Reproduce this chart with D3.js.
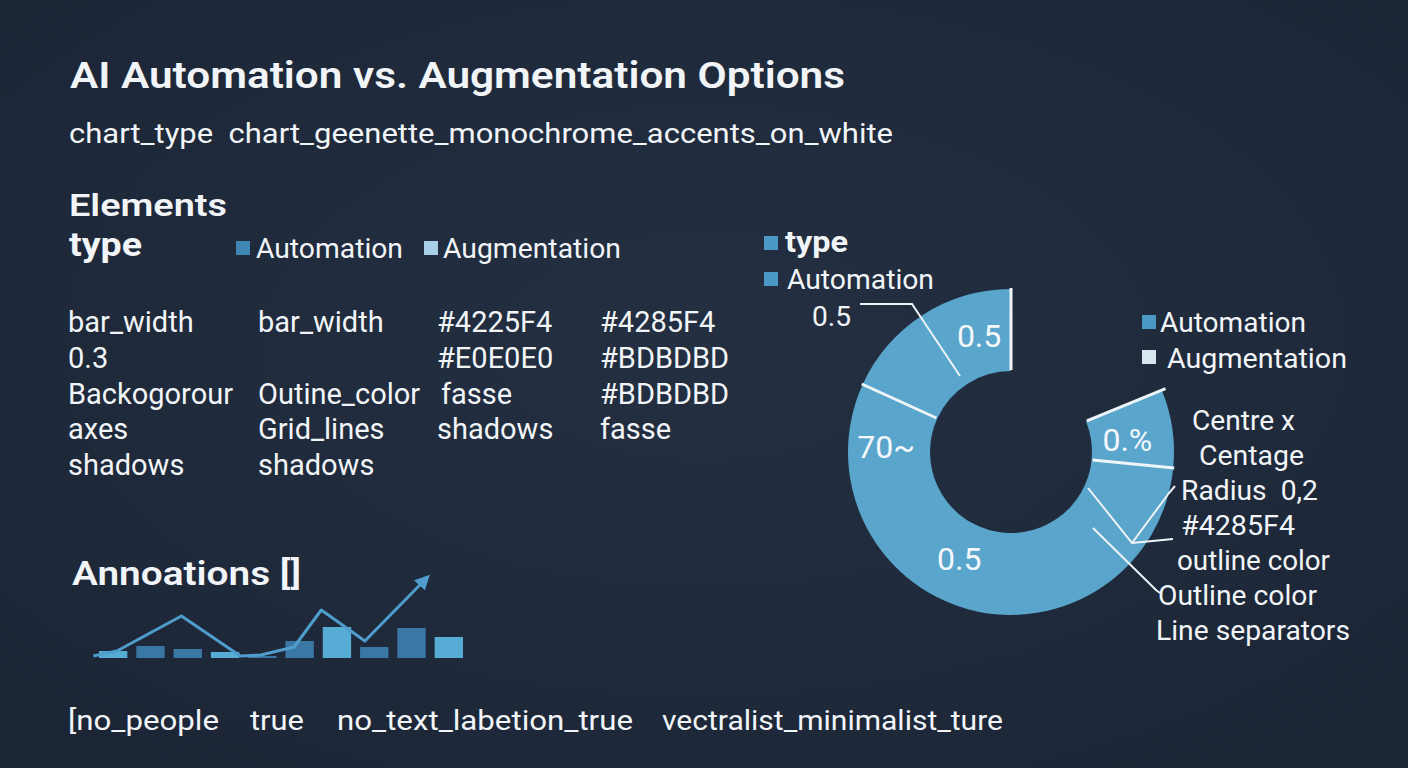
<!DOCTYPE html>
<html><head><meta charset="utf-8">
<script src="https://cdn.jsdelivr.net/npm/d3@7"></script>
<style>html,body{margin:0;padding:0;background:#1d2737;}svg{display:block;font-family:Roboto,"Open Sans",sans-serif;}svg text{white-space:pre;}</style>
</head><body>
<script>
// ---------- data ----------
const titleText = "AI Automation vs. Augmentation Options";
const subtitleText = "chart_type  chart_geenette_monochrome_accents_on_white";
const legendSeries = ["Automation", "Augmentation"];
const tableCol1 = ["bar_width", "0.3", "Backogorour", "axes", "shadows"];
const tableCol2 = ["bar_width", "", "Outine_color", "Grid_lines", "shadows"];
const tableCol3 = ["#4225F4", "#E0E0E0", "fasse", "shadows", ""];
const tableCol4 = ["#4285F4", "#BDBDBD", "#BDBDBD", "fasse", ""];
const footerItems = ["[no_people", "true", "no_text_labetion_true", "vectralist_minimalist_ture"];
// mini chart
const miniCats = ["a","b","c","d","e","f","g","h","i","j"];
const miniBars = [7, 12, 9, 6, 2, 17, 31, 11, 30, 21];
const miniTone = [1, 0, 0, 1, 0, 0, 1, 0, 0, 1];
const lineX = [-0.53, 0.1, 1.83, 3.41, 3.96, 4.85, 5.58, 6.75, 8.38];
const lineY = [2, 7, 42, 2, 3, 11, 48, 17, 79];
// donut (degrees of arc per segment, gap first is empty)
const donutGapDeg = 67.7;
const donutValues = [27.9, 198.9, 65.5];
const donutLabels = [
  {text:"0.%", ang:84, r:117},
  {text:"0.5", ang:206, r:118},
  {text:"70~", ang:272.7, r:125},
  {text:"0.5", ang:344.7, r:121}
];
const rightNotes = ["Centre x", "Centage", "Radius  0,2", "#4285F4", "outline color", "Outline color", "Line separators"];

// ---------- setup ----------
const W = 1408, H = 768;
const svg = d3.select("body").append("svg").attr("width", W).attr("height", H);
const defs = svg.append("defs");
const rg = defs.append("radialGradient").attr("id","bg").attr("cx","50%").attr("cy","45%").attr("r","70%");
rg.append("stop").attr("offset","0%").attr("stop-color","#243042");
rg.append("stop").attr("offset","100%").attr("stop-color","#1b2536");
svg.append("rect").attr("width",W).attr("height",H).attr("fill","url(#bg)");

function txt(x, y, s, size, weight, width, fill) {
  const t = svg.append("text").attr("x", x).attr("y", y).text(s)
    .attr("font-size", size).attr("font-weight", weight || 400)
    .attr("fill", fill || "#f2f5f8");
  if (width) t.attr("textLength", width).attr("lengthAdjust", "spacingAndGlyphs");
  return t;
}

// ---------- left text ----------
txt(70, 88, titleText, 37, 600, 775);
txt(69, 143, subtitleText, 28, 400, 824);
txt(69, 216, "Elements", 32, 600, 158);
txt(69, 256, "type", 33, 700, 73);

// legend
const legX = [236, 424], legTX = [256, 443], legTW = [147, 178];
const legColors = ["#3f86b4", "#a9cfe6"];
legendSeries.forEach((s, i) => {
  svg.append("rect").attr("x", legX[i]).attr("y", 241).attr("width", 14).attr("height", 14).attr("fill", legColors[i]);
  txt(legTX[i], 258, s, 27, 400, legTW[i]);
});

// table
const rowY = d3.scaleLinear().domain([0, 4]).range([332, 475]);
const cols = [
  {data: tableCol1, x: 68},
  {data: tableCol2, x: 258},
  {data: tableCol3, x: 437},
  {data: tableCol4, x: 600}
];
cols.forEach(c => c.data.forEach((s, i) => {
  if (!s) return;
  const xo = (s === "fasse" && c.x === 437) ? 4 : 0;
  txt(c.x + xo, rowY(i), s, 29, 400);
}));

txt(72, 585, "Annoations []", 33, 600, 229);

// ---------- mini chart ----------
const mx = d3.scaleBand().domain(miniCats).range([99, 463]).paddingInner(0.24).paddingOuter(0.0);
const mxl = d3.scaleLinear().domain([0, 9]).range([mx("a") + mx.bandwidth()/2, mx("j") + mx.bandwidth()/2]);
const my = d3.scaleLinear().domain([0, 80]).range([658, 578]);
svg.append("g").selectAll("rect").data(miniBars).join("rect")
  .attr("x", (d, i) => mx(miniCats[i]))
  .attr("y", d => my(d))
  .attr("width", mx.bandwidth())
  .attr("height", d => my(0) - my(d))
  .attr("fill", (d, i) => miniTone[i] ? "#57acd6" : "#3b77a5");
defs.append("marker").attr("id","arrow").attr("viewBox","0 0 10 10").attr("refX",6).attr("refY",5)
  .attr("markerWidth",5).attr("markerHeight",5).attr("orient","auto")
  .append("path").attr("d","M0,0 L10,5 L0,10 z").attr("fill","#4f9dcc");
const pts = lineX.map((x, i) => [mxl(x), my(lineY[i])]);
svg.append("path").attr("d", d3.line()(pts)).attr("fill","none")
  .attr("stroke","#4f9dcc").attr("stroke-width",3).attr("stroke-linejoin","round")
  .attr("marker-end","url(#arrow)");

// footer
const footX = [68, 250, 337, 662], footW = [151, 54, 296, 341];
footerItems.forEach((s, i) => txt(footX[i], 730, s, 28, 400, footW[i]));

// ---------- donut ----------
const cx = 1011, cy = 452, rIn = 81, rOut = 163;
const g = svg.append("g").attr("transform", `translate(${cx},${cy})`);
const rad = d => d * Math.PI / 180;
const pie = d3.pie().sort(null).startAngle(rad(donutGapDeg)).endAngle(2 * Math.PI);
const arcs = pie(donutValues);
const arc = d3.arc().innerRadius(rIn).outerRadius(rOut);
g.selectAll("path.seg").data(arcs).join("path").attr("class","seg")
  .attr("d", arc).attr("fill", "#59a5cc");
// separators at every boundary
const bounds = [arcs[0].startAngle].concat(arcs.map(a => a.endAngle));
bounds.forEach((a, i) => {
  const p0 = d3.pointRadial(a, rIn + 1), p1 = d3.pointRadial(a, i === 0 ? rOut + 4 : rOut + 1);
  g.append("line").attr("x1", p0[0]).attr("y1", p0[1]).attr("x2", p1[0]).attr("y2", p1[1])
    .attr("stroke", "#eef4f8").attr("stroke-width", 3);
});
// labels
donutLabels.forEach(l => {
  const p = d3.pointRadial(rad(l.ang), l.r);
  g.append("text").attr("x", p[0]).attr("y", p[1]).attr("dy", "0.36em")
    .attr("text-anchor", "middle").attr("font-size", 32).attr("fill", "#f4f8fb").text(l.text);
});
// leader lines (offsets from donut centre)
const leader = d3.line();
const leaders = [
  [[-151,-148],[-99,-148],[-51,-76]],
  [[77,36],[121,91],[162,87]],
  [[121,91],[158,41],[164,34]],
  [[82,76],[145,138],[149,141]]
];
leaders.forEach(p => g.append("path").attr("d", leader(p)).attr("fill","none")
  .attr("stroke","#eef4f8").attr("stroke-width",2));
txt(812, 326, "0.5", 27, 400, 39);

// donut legend (top-left)
svg.append("rect").attr("x",764).attr("y",236).attr("width",14).attr("height",14).attr("fill","#4b98c6");
txt(785, 252, "type", 29, 700, 63);
svg.append("rect").attr("x",764).attr("y",272).attr("width",14).attr("height",14).attr("fill","#4b98c6");
txt(787, 289, "Automation", 27, 400, 147);

// right legend
svg.append("rect").attr("x",1142).attr("y",315).attr("width",14).attr("height",14).attr("fill","#4b98c6");
txt(1160, 332, legendSeries[0], 27, 400, 146);
svg.append("rect").attr("x",1142).attr("y",350).attr("width",14).attr("height",14).attr("fill","#d8e6f0");
txt(1167, 368, legendSeries[1], 27, 400, 180);

// right notes
const noteX = [1192, 1199, 1181, 1181, 1177, 1158, 1156];
const noteW = [103, 105, 137, 114, 153, 159, 194];
const noteY = d3.scaleLinear().domain([0, 6]).range([430, 640]);
rightNotes.forEach((s, i) => txt(noteX[i], noteY(i), s, 27, 400, noteW[i]));
</script>
</body></html>
